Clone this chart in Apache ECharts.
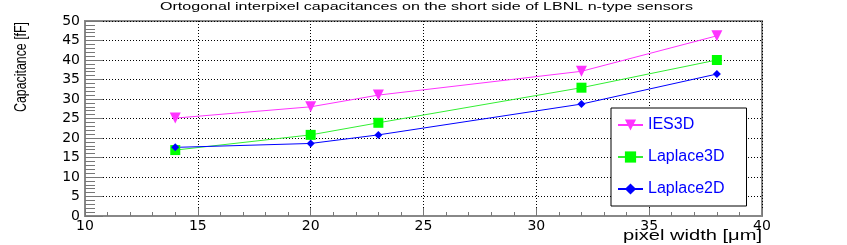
<!DOCTYPE html>
<html><head><meta charset="utf-8">
<script src="https://cdn.jsdelivr.net/npm/echarts@6/dist/echarts.min.js"></script>
<style>html,body{margin:0;padding:0;background:#fff}#c{width:847px;height:245px}</style>
</head><body><div id="c"></div>
<script>
const xValues = [14, 20, 23, 32, 38];
const ies3d = [25.1, 28.0, 31.0, 37.1, 46.2];
const laplace3d = [16.9, 20.8, 23.9, 32.9, 40.0];
const laplace2d = [17.6, 18.6, 20.8, 28.7, 36.4];
const seriesNames = ['IES3D', 'Laplace3D', 'Laplace2D'];
const titleText = 'Ortogonal interpixel capacitances on the short side of LBNL n-type sensors';
const xName = 'pixel width [\u03bcm]';
const yName = 'Capacitance [fF]';

function measure(text, size, family) {
  const ctx = document.createElement('canvas').getContext('2d');
  ctx.font = size + 'px ' + family;
  return ctx.measureText(text).width;
}
const sans = '"Liberation Sans", Arial, sans-serif';
const titleScale = 533 / measure(titleText, 11, sans);
const yNameScale = 90 / measure(yName, 16, sans);
const xNameScale = 139 / measure(xName, 15, sans);

const pairs = (ys) => xValues.map((x, i) => [x, ys[i]]);
const chart = echarts.init(document.getElementById('c'));
const font = 'DejaVu Sans';
const axisCommon = {
  axisLine: {show: true, onZero: false, lineStyle: {color: '#888', width: 2}},
  splitLine: {show: true, lineStyle: {color: '#000', type: [1, 2], width: 1}},
};
chart.setOption({
  animation: false,
  grid: {left: 85, right: 85, top: 21, bottom: 29, show: true, borderColor: '#888', borderWidth: 2,
    outerBoundsMode: 'none', containLabel: false},
  xAxis: Object.assign({}, axisCommon, {
    type: 'value', min: 10, max: 40, interval: 5,
    axisTick: {inside: true, length: 8, lineStyle: {color: '#777'}},
    minorTick: {show: true, splitNumber: 5, length: 4, lineStyle: {color: '#777'}},
    axisLabel: {color: '#000', fontFamily: font, fontSize: 14, margin: 3}
  }),
  yAxis: Object.assign({}, axisCommon, {
    type: 'value', min: 0, max: 50, interval: 5,
    axisTick: {inside: true, length: 18, lineStyle: {color: '#777'}},
    minorTick: {show: true, splitNumber: 5, length: 10, lineStyle: {color: '#777'}},
    axisLabel: {color: '#000', fontFamily: font, fontSize: 14, margin: 5}
  }),
  graphic: [{
    type: 'text', x: 160, y: 7, scaleX: titleScale,
    style: {text: titleText, font: '11px ' + sans, fill: '#000', textAlign: 'left', textVerticalAlign: 'middle'}
  }, {
    type: 'text', x: 22, y: 112, rotation: Math.PI / 2, scaleX: yNameScale,
    style: {text: yName, font: '16px ' + sans, fill: '#000', textAlign: 'left', textVerticalAlign: 'middle'}
  }, {
    type: 'text', x: 762, y: 236, scaleX: xNameScale,
    style: {text: xName, font: '15px ' + sans, fill: '#000', textAlign: 'right', textVerticalAlign: 'middle'}
  }],
  legend: {
    orient: 'vertical', left: 611, top: 108,
    data: seriesNames,
    backgroundColor: '#fff', borderColor: '#000', borderWidth: 1,
    padding: [9, 22, 9, 6], itemGap: 16, itemWidth: 25, itemHeight: 14,
    textStyle: {color: '#0000ff', fontFamily: sans, fontSize: 16}
  },
  series: [
    {name: seriesNames[0], type: 'line', data: pairs(ies3d), symbol: 'triangle', symbolRotate: 180, symbolSize: 11,
      itemStyle: {color: '#ff33ff'}, lineStyle: {color: '#ff33ff', width: 1}},
    {name: seriesNames[1], type: 'line', data: pairs(laplace3d), symbol: 'rect', symbolSize: 10,
      itemStyle: {color: '#00ff00'}, lineStyle: {color: '#33ee33', width: 1}},
    {name: seriesNames[2], type: 'line', data: pairs(laplace2d), symbol: 'diamond', symbolSize: 8,
      itemStyle: {color: '#0000ff'}, lineStyle: {color: '#0000ff', width: 1}}
  ]
});
</script></body></html>
